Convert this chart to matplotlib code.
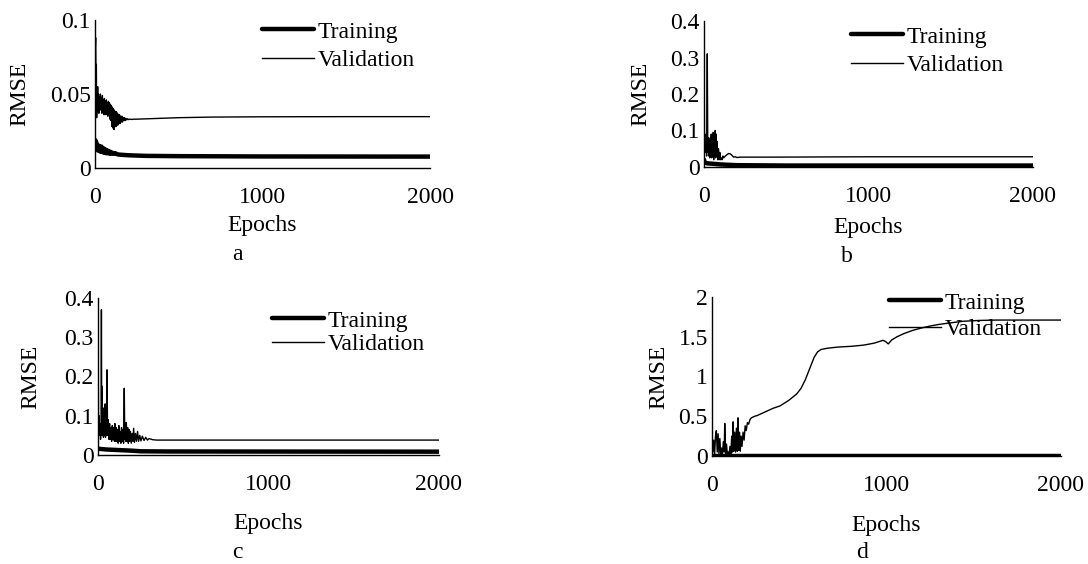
import matplotlib
matplotlib.use("Agg")
import matplotlib.pyplot as plt

plt.rcParams['font.family'] = ['Liberation Serif', 'DejaVu Serif']
plt.rcParams['font.size'] = 17

# ---------------- data ----------------
# Panel a
a_val_epochs = [0, 2, 4, 6, 8, 10, 12, 14, 16, 18, 20, 23, 26, 29, 32, 35, 38, 41, 44, 47, 50, 53, 56, 59,
                62, 65, 68, 71, 74, 77, 80, 83, 86, 89, 92, 95, 98, 101, 104, 107, 110, 113, 116, 119, 122,
                125, 128, 131, 134, 137, 140, 143, 146, 149, 152, 156, 160, 164, 168, 172, 176, 180, 185,
                190, 195, 200, 210, 220, 230, 250, 300, 400, 500, 700, 1000, 1500, 2000]
a_val = [0.100, 0.082, 0.088, 0.060, 0.070, 0.034, 0.052, 0.040, 0.055, 0.038, 0.050, 0.037, 0.048, 0.039,
         0.050, 0.040, 0.047, 0.037, 0.049, 0.038, 0.046, 0.036, 0.047, 0.037, 0.045, 0.036, 0.046, 0.037,
         0.044, 0.035, 0.045, 0.036, 0.044, 0.033, 0.043, 0.032, 0.042, 0.028, 0.041, 0.027, 0.040, 0.026,
         0.039, 0.028, 0.038, 0.028, 0.038, 0.029, 0.037, 0.029, 0.036, 0.030, 0.036, 0.030, 0.035, 0.031,
         0.035, 0.031, 0.034, 0.032, 0.034, 0.032, 0.0335, 0.0325, 0.0333, 0.0327, 0.0330, 0.0328, 0.0330,
         0.0330, 0.0332, 0.0336, 0.0340, 0.0344, 0.0346, 0.0347, 0.0347]
a_tr_epochs = [0, 3, 6, 9, 12, 15, 18, 21, 24, 27, 30, 34, 38, 42, 46, 50, 54, 58, 62, 66, 70, 75, 80, 85,
               90, 95, 100, 110, 120, 135, 150, 200, 300, 500, 1000, 2000]
a_tr = [0.019, 0.016, 0.018, 0.013, 0.016, 0.012, 0.015, 0.012, 0.015, 0.0115, 0.014, 0.011, 0.0145, 0.011,
        0.0135, 0.0105, 0.013, 0.0105, 0.0125, 0.010, 0.012, 0.010, 0.0115, 0.0098, 0.011, 0.0097, 0.0105,
        0.0096, 0.0100, 0.0092, 0.0090, 0.0086, 0.0082, 0.0080, 0.0078, 0.0077]

# Panel b
b_val_epochs = [0, 3, 6, 9, 12, 16, 20, 23, 26, 29, 32, 35, 38, 41, 44, 47, 50, 53, 56, 59, 62, 65, 68, 71,
                74, 77, 80, 84, 88, 92, 96, 100, 105, 110, 115, 120, 130, 140, 150, 160, 170, 180, 190, 200,
                220, 400, 1000, 2000]
b_val = [0.40, 0.05, 0.09, 0.04, 0.06, 0.03, 0.31, 0.04, 0.08, 0.03, 0.07, 0.025, 0.08, 0.03, 0.09, 0.025,
         0.08, 0.03, 0.095, 0.02, 0.085, 0.03, 0.10, 0.025, 0.09, 0.03, 0.07, 0.02, 0.05, 0.02, 0.04, 0.02,
         0.025, 0.02, 0.03, 0.025, 0.03, 0.034, 0.037, 0.036, 0.032, 0.027, 0.028, 0.026, 0.027, 0.027,
         0.028, 0.028]
b_tr_epochs = [0, 5, 20, 50, 100, 200, 500, 2000]
b_tr = [0.020, 0.012, 0.010, 0.009, 0.007, 0.005, 0.004, 0.004]

# Panel c
c_val_epochs = [0, 3, 6, 9, 12, 15, 18, 20, 22, 24, 26, 29, 32, 35, 38, 41, 44, 47, 50, 53, 56, 60, 64, 68,
                72, 76, 80, 84, 88, 92, 96, 99, 102, 106, 110, 114, 118, 122, 126, 130, 134, 138, 142, 146,
                150, 154, 157, 160, 163, 166, 170, 174, 178, 182, 186, 190, 195, 200, 205, 209, 214, 220,
                226, 232, 238, 245, 252, 260, 270, 280, 290, 300, 320, 345, 500, 1000, 2000]
c_val = [0.40, 0.06, 0.10, 0.05, 0.08, 0.04, 0.07, 0.37, 0.05, 0.175, 0.05, 0.09, 0.045, 0.12, 0.05, 0.13,
         0.045, 0.13, 0.05, 0.217, 0.05, 0.09, 0.04, 0.08, 0.04, 0.07, 0.035, 0.075, 0.04, 0.07, 0.035,
         0.08, 0.035, 0.07, 0.035, 0.065, 0.03, 0.075, 0.035, 0.06, 0.03, 0.07, 0.035, 0.065, 0.03, 0.17,
         0.04, 0.08, 0.035, 0.083, 0.035, 0.07, 0.03, 0.065, 0.035, 0.06, 0.03, 0.055, 0.035, 0.068, 0.032,
         0.055, 0.035, 0.06, 0.035, 0.05, 0.036, 0.048, 0.037, 0.045, 0.038, 0.042, 0.039, 0.038, 0.038,
         0.038, 0.038]
c_tr_epochs = [0, 50, 100, 200, 250, 400, 2000]
c_tr = [0.016, 0.014, 0.013, 0.011, 0.0095, 0.009, 0.0085]

# Panel d
d_val_epochs = [0, 5, 10, 15, 20, 25, 30, 35, 40, 45, 50, 55, 60, 65, 70, 73, 78, 83, 88, 93, 98, 103, 108,
                113, 118, 121, 125, 130, 135, 140, 145, 149, 153, 158, 162, 167, 172, 178, 184, 190, 196,
                203, 210, 218, 226, 235, 245, 260, 300, 350, 390, 440, 485, 510, 535, 560, 585, 605, 625,
                660, 720, 800, 870, 930, 980, 995, 1010, 1030, 1060, 1100, 1150, 1200, 1250, 1300, 1350,
                1440, 1530, 1630, 1800, 2000]
d_val = [0.30, 0.05, 0.20, 0.02, 0.25, 0.32, 0.05, 0.28, 0.03, 0.22, 0.02, 0.10, 0.03, 0.18, 0.05, 0.41,
         0.03, 0.15, 0.02, 0.05, 0.02, 0.12, 0.03, 0.25, 0.05, 0.43, 0.06, 0.30, 0.05, 0.35, 0.06, 0.48,
         0.07, 0.30, 0.06, 0.25, 0.12, 0.30, 0.20, 0.38, 0.32, 0.42, 0.40, 0.46, 0.48, 0.49, 0.50, 0.51,
         0.55, 0.60, 0.63, 0.70, 0.78, 0.85, 0.96, 1.10, 1.24, 1.31, 1.34, 1.355, 1.37, 1.38, 1.395, 1.42,
         1.455, 1.44, 1.41, 1.46, 1.50, 1.54, 1.58, 1.61, 1.635, 1.655, 1.67, 1.695, 1.705, 1.71, 1.71, 1.71]
d_tr_epochs = [0, 2000]
d_tr = [0.005, 0.005]

panels = [
    dict(letter="a", ve=a_val_epochs, v=a_val, te=a_tr_epochs, t=a_tr, ymax=0.1,
         yticks=[0, 0.05, 0.1], ylabels=["0", "0.05", "0.1"]),
    dict(letter="b", ve=b_val_epochs, v=b_val, te=b_tr_epochs, t=b_tr, ymax=0.4,
         yticks=[0, 0.1, 0.2, 0.3, 0.4], ylabels=["0", "0.1", "0.2", "0.3", "0.4"]),
    dict(letter="c", ve=c_val_epochs, v=c_val, te=c_tr_epochs, t=c_tr, ymax=0.4,
         yticks=[0, 0.1, 0.2, 0.3, 0.4], ylabels=["0", "0.1", "0.2", "0.3", "0.4"]),
    dict(letter="d", ve=d_val_epochs, v=d_val, te=d_tr_epochs, t=d_tr, ymax=2.0,
         yticks=[0, 0.5, 1, 1.5, 2], ylabels=["0", "0.5", "1", "1.5", "2"]),
]
xticks = [0, 1000, 2000]
xlabels = ["0", "1000", "2000"]

W, H = 1088, 564
# layout in pixels: left, right, top (y at ymax), bottom (y at 0)
boxes = [(95, 430, 20, 168), (704, 1033, 21, 167), (98, 439, 298, 455), (712, 1061, 297, 456)]
ylab_x = [20, 641, 31, 659]
epochs_y = [225, 227, 523, 525]
letter_pos = [(237, 254), (847, 256), (237, 553), (862, 553)]
legend_pos = [(262, 21), (851, 26), (272, 310), (889, 292)]
legend_sp = [0.3, 0.3, 0.1, 0.2]

fig = plt.figure(figsize=(W / 100, H / 100), dpi=100)

for p, (l, r, t, b), yx, ey, (lx, ly), (gx, gy), sp in zip(panels, boxes, ylab_x, epochs_y, letter_pos,
                                                           legend_pos, legend_sp):
    ax = fig.add_axes([l / W, 1 - b / H, (r - l) / W, (b - t) / H])
    ax.plot(p["te"], p["t"], color="black", lw=3.2, solid_capstyle="round", label="Training")
    ax.plot(p["ve"], p["v"], color="black", lw=1.0, label="Validation")
    ax.set_xlim(0, 2000)
    ax.set_ylim(0, p["ymax"])
    ax.set_xticks(xticks, xlabels)
    ax.set_yticks(p["yticks"], p["ylabels"])
    ax.tick_params(axis="both", length=0)
    ax.tick_params(axis="x", pad=14)
    ax.tick_params(axis="y", pad=3)
    for s in ("top", "right"):
        ax.spines[s].set_visible(False)
    for s in ("left", "bottom"):
        ax.spines[s].set_linewidth(1.0)
        ax.spines[s].set_color("black")
    ax.set_ylabel("RMSE")
    ax.yaxis.set_label_coords(-(l - yx) / (r - l), 0.5)
    ax.yaxis.label.set_va("center")
    ax.set_xlabel("Epochs")
    ax.xaxis.label.set_va("center")
    ax.xaxis.set_label_coords(0.5, -(ey - b) / (b - t))
    fig.text(lx / W, 1 - ly / H, p["letter"], ha="center", va="center", fontsize=17)
    ax.legend(loc="upper left", bbox_to_anchor=(gx / W, 1 - gy / H), bbox_transform=fig.transFigure,
              frameon=False, handlelength=2.2, handletextpad=0.15, labelspacing=sp,
              borderpad=0, borderaxespad=0, fontsize=17)

fig.savefig("out.png", dpi=100)
